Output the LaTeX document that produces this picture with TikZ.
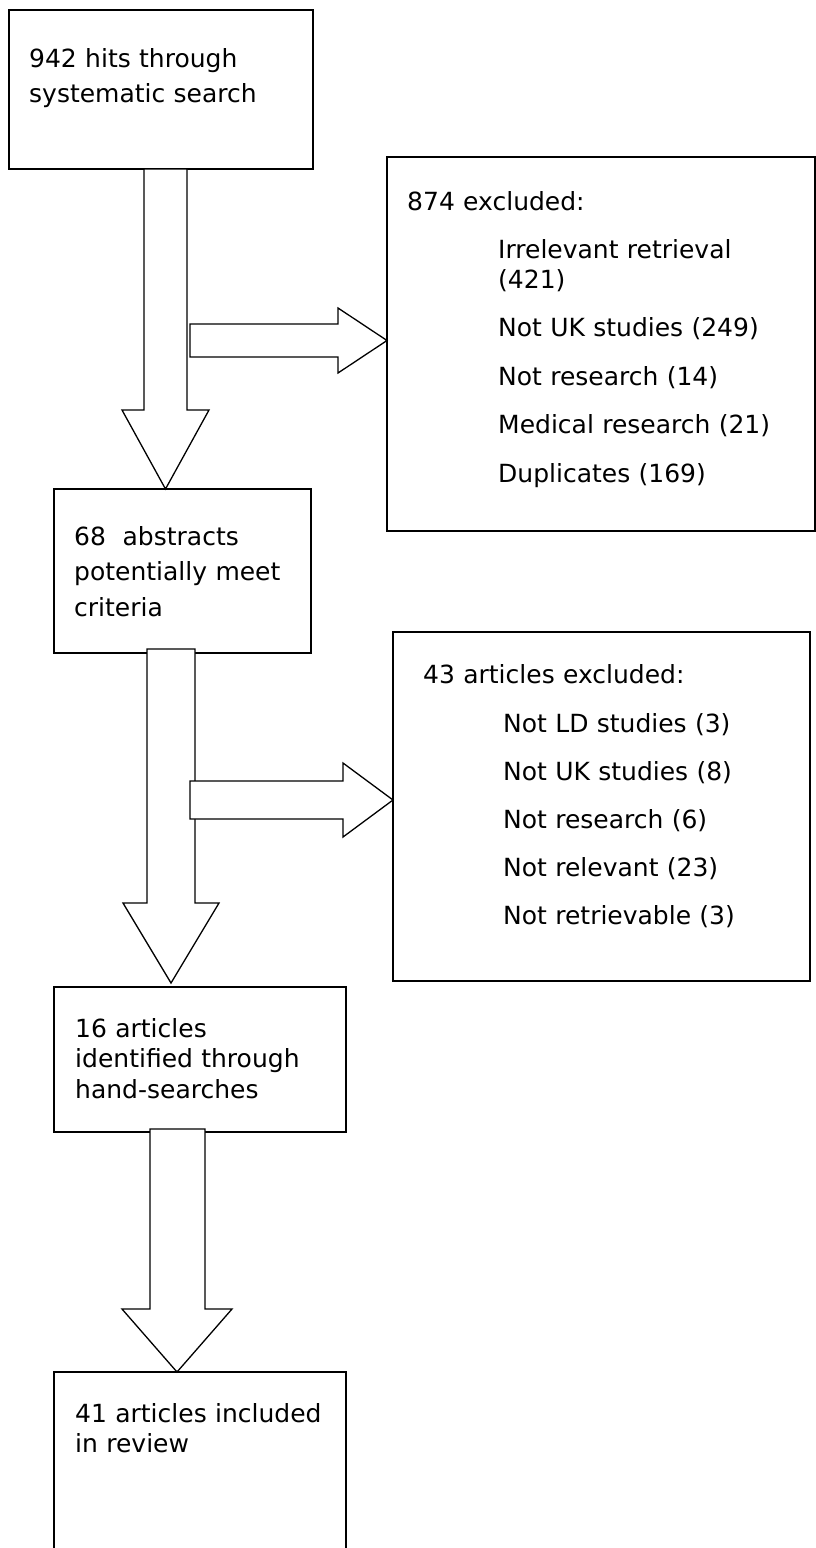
\documentclass[tikz,border=0pt]{standalone}
\usepackage{fontspec}
\setmainfont{DejaVu Sans}

\begin{document}
\begin{tikzpicture}[x=1pt, y=-1pt,
  box/.style={draw, line width=1.7pt, anchor=north west, inner sep=0pt, outer sep=0pt},
  txt/.style={anchor=base west, inner sep=0pt, text width=#1, align=left},
  txt/.default=400pt,
  linesep/.style={font=\fontsize{25}{#1}\selectfont},
  blk/.style={draw, fill=white, line width=1.3pt, line join=miter}]
\fill[white] (0,0) rectangle (816,1548);
\useasboundingbox (0,0) rectangle (816,1548);

% boxes
\node[box, minimum width=304pt, minimum height=159pt] (hits) at (9,10) {};
\node[box, minimum width=257pt, minimum height=164pt] (abstr) at (54,489) {};
\node[box, minimum width=428pt, minimum height=374pt] (excl1) at (387,157) {};
\node[box, minimum width=417pt, minimum height=349pt] (excl2) at (393,632) {};
\node[box, minimum width=292pt, minimum height=145pt] (hand) at (54,987) {};
\node[box, minimum width=292pt, minimum height=185pt] (incl) at (54,1372) {};

% block arrows
\coordinate (fork1) at (190,340.5);
\coordinate (fork2) at (190,800);
\draw[blk] (144,0 |- hits.south) -- (144,410) -- (122,410) -- (165.5,0 |- abstr.north)
  -- (209,410) -- (187,410) -- (187,0 |- hits.south) -- cycle;
\draw[blk] (fork1 |- 0,324) -- (338,324) -- (338,308) -- (excl1.west |- fork1)
  -- (338,373) -- (338,357) -- (fork1 |- 0,357) -- cycle;
\draw[blk] (147,649) -- (147,903) -- (123,903) -- (171,983)
  -- (219,903) -- (195,903) -- (195,649) -- cycle;
\draw[blk] (fork2 |- 0,781) -- (343,781) -- (343,763) -- (excl2.west |- fork2)
  -- (343,837) -- (343,819) -- (fork2 |- 0,819) -- cycle;
\draw[blk] (150,1129) -- (150,1309) -- (122,1309) -- (177,0 |- incl.north)
  -- (232,1309) -- (205,1309) -- (205,1129) -- cycle;

% texts
\node[txt, linesep=35] (hits-t) at (29,67) {942 hits through\\systematic search};
\node[txt, linesep=35.5] (abstr-t) at (74,545) {68~ abstracts\\potentially meet\\criteria};
\node[txt, linesep=30] (excl1-h) at (407,210) {874 excluded:};
\node[txt, linesep=30] (excl1-l) at (498,258) {Irrelevant retrieval\\(421)\\[18.5pt]
  Not UK studies (249)\\[18.5pt]Not research (14)\\[18.5pt]Medical research (21)\\[18.5pt]
  Duplicates (169)};
\node[txt, linesep=30] (excl2-h) at (423,683) {43 articles excluded:};
\node[txt, linesep=30] (excl2-l) at (503,732) {Not LD studies (3)\\[18pt]Not UK studies (8)\\[18pt]
  Not research (6)\\[18pt]Not relevant (23)\\[18pt]Not retrievable (3)};
\node[txt, linesep=30.5] (hand-t) at (75,1037) {16 articles\\identified through\\hand-searches};
\node[txt, linesep=30] (incl-t) at (75,1422) {41 articles included\\in review};
\end{tikzpicture}
\end{document}
